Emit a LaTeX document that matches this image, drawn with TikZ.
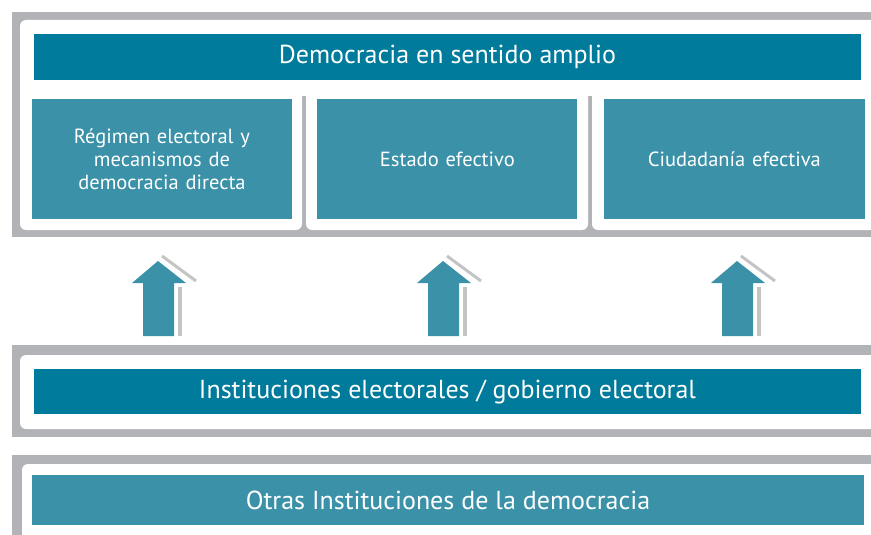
\documentclass[tikz,border=0pt]{standalone}
\usepackage{fontspec}
\setmainfont{PT Sans}
\usepackage{tikz}
\usetikzlibrary{positioning}
\definecolor{tealdark}{RGB}{0,123,155}
\definecolor{teallight}{RGB}{58,145,168}
\definecolor{framegray}{RGB}{178,179,182}
\definecolor{shadowgray}{RGB}{196,196,196}
\tikzstyle{bar} = [rectangle, inner sep=0pt, minimum width=827pt, minimum height=46pt, text centered, fill=tealdark, text=white, font=\fontsize{26}{30}\selectfont]
\tikzstyle{cell} = [rectangle, inner sep=0pt, minimum width=260pt, minimum height=120pt, text width=250pt, align=center, fill=teallight, text=white, font=\fontsize{20.5}{23}\selectfont]
\tikzstyle{panel} = [fill=framegray]
\tikzstyle{card} = [fill=white, rounded corners=6pt]
\tikzstyle{uparrow} = [fill=teallight]

\begin{document}
\begin{tikzpicture}[x=1pt, y=-1pt]
	\useasboundingbox (0,0) rectangle (871,535);
	% frames
	\fill [panel] (12,12) rectangle (871,237);
	\fill [card] (20,20) rectangle (880,96);
	\fill [card] (20,86) rectangle (302,230);
	\fill [card] (306,86) rectangle (588,230);
	\fill [card] (592,86) rectangle (880,230);
	\fill [panel] (12,345) rectangle (871,437);
	\fill [card] (20,355) rectangle (880,429);
	\fill [panel] (12,455) rectangle (871,545);
	\fill [card] (22,464) rectangle (880,550);
	% boxes
	\node (amplio) [bar] at (447.5,57) {Democracia en sentido amplio};
	\node (regimen) [cell, below right=19pt and -2pt of amplio.south west, anchor=north west] {R\'egimen electoral y\\mecanismos de\\democracia directa};
	\node (estado) [cell, right=25pt of regimen] {Estado efectivo};
	\node (ciudadania) [cell, right=26pt of estado, minimum width=261pt] {Ciudadan\'ia efectiva};
	\node (electoral) [bar, minimum height=45pt] at (447.5,391.5) {Instituciones electorales / gobierno electoral};
	\node (otras) [bar, minimum width=832pt, minimum height=50pt, fill=teallight] at (448,500) {Otras Instituciones de la democracia};
	% arrows
	\foreach \x in {158,443,737} {
		\draw [shadowgray, line width=3pt] (\x+4,256) -- (\x+38,281);
		\fill [shadowgray] (\x+20,287) rectangle (\x+24,336);
		\fill [uparrow] (\x-15,336) -- (\x-15,283) -- (\x-26,283) -- (\x,261) -- (\x+28,283) -- (\x+16,283) -- (\x+16,336) -- cycle;
	}
\end{tikzpicture}
\end{document}
